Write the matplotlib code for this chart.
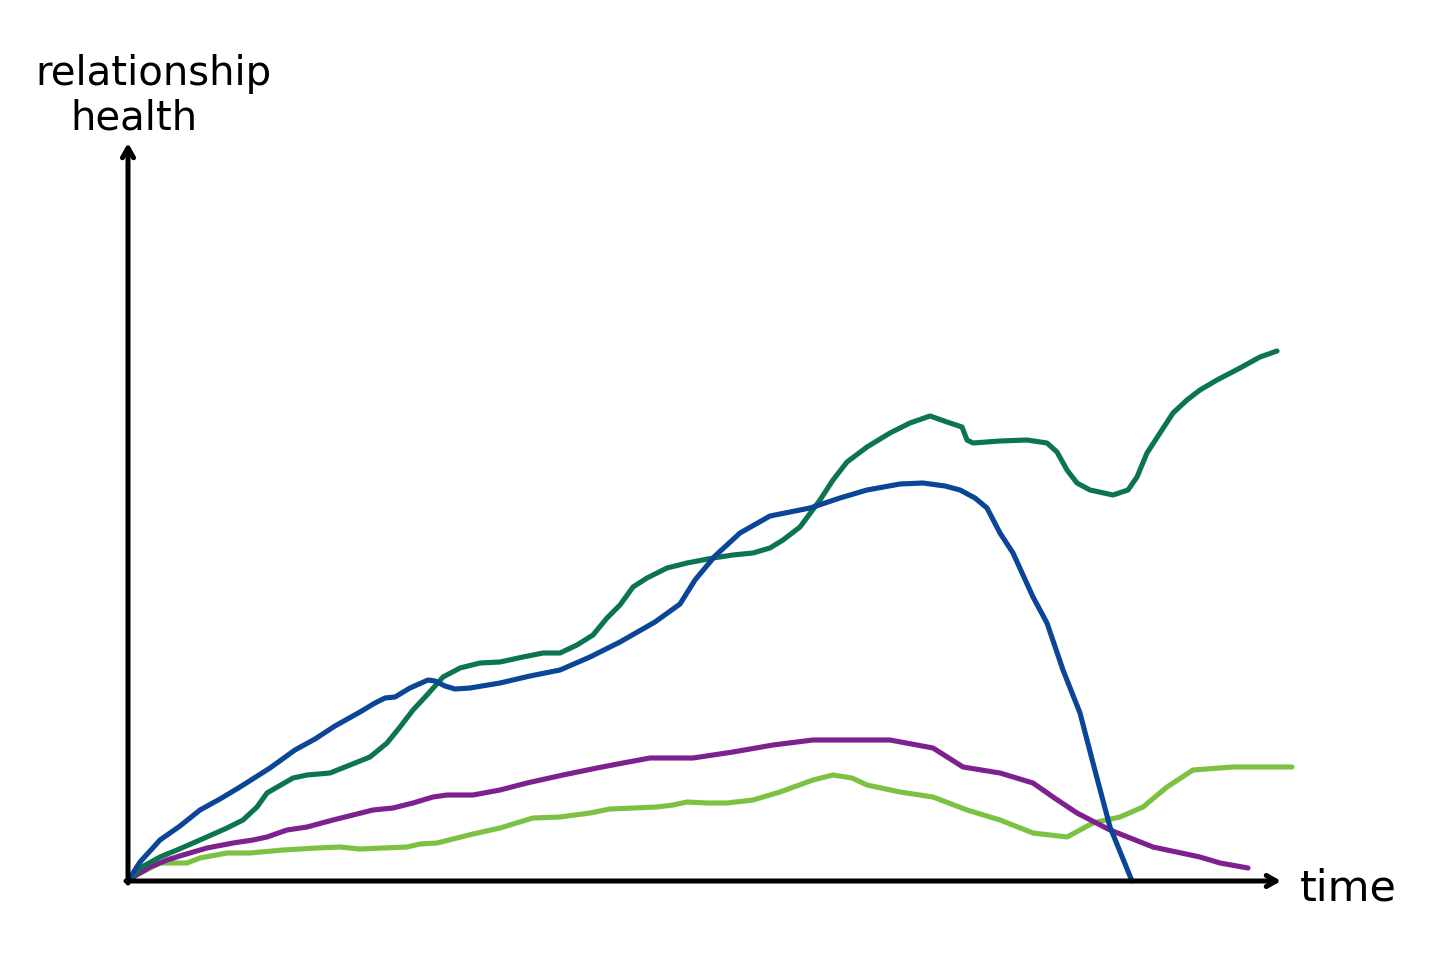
import matplotlib
matplotlib.use("Agg")
import matplotlib.pyplot as plt

# ---- data (time, relationship health) ----
blue_t = [0,12,32,52,72,92,112,142,167,187,207,232,247,257,267,282,300,307,317,327,342,372,402,432,462,492,527,552,567,587,612,642,682,712,739,772,795,817,832,847,859,872,885,905,919,935,952,965,982,1004]
blue_h = [0,19,41,55,71,82,94,113,131,142,155,169,178,183,184,193,201,200,195,192,193,198,205,211,224,239,259,277,301,325,348,365,373,383,391,397,398,395,391,383,373,348,328,284,258,211,168,118,54,0]

dgreen_t = [0,12,32,49,72,99,115,129,139,165,179,202,222,242,259,272,285,299,315,332,352,372,395,415,432,449,465,479,492,505,519,539,559,585,605,625,642,655,672,692,705,719,739,762,782,802,819,834,839,845,872,899,919,929,939,949,962,985,1000,1009,1019,1032,1045,1059,1072,1089,1112,1132,1149]
dgreen_h = [0,13,24,31,41,53,61,74,88,103,106,108,116,124,138,154,171,186,204,213,218,219,224,228,228,236,246,263,276,294,303,313,318,323,326,328,333,341,354,381,401,419,434,448,458,465,459,454,441,438,440,441,438,429,411,398,391,386,391,404,428,448,468,481,491,501,513,524,530]

purple_t = [0,5,22,39,55,79,105,125,139,159,179,205,225,245,265,285,305,319,345,372,399,435,469,495,522,565,605,645,685,722,762,805,835,872,905,925,949,982,1025,1072,1092,1120]
purple_h = [0,4,14,21,26,33,38,41,44,51,54,61,66,71,73,78,84,86,86,91,98,106,113,118,123,123,129,136,141,141,141,133,114,108,98,84,68,51,34,24,18,13]

lgreen_t = [0,5,32,59,72,99,122,155,189,212,232,255,279,292,309,325,345,372,405,432,462,482,529,545,559,579,599,625,652,685,705,724,739,772,805,839,872,905,939,965,992,1015,1039,1065,1105,1139,1164]
lgreen_h = [0,4,18,18,23,28,28,31,33,34,32,33,34,37,38,42,47,53,63,64,68,72,74,76,79,78,78,81,89,101,106,103,96,89,84,71,61,48,44,58,64,74,94,111,114,114,114]

y_label_lines = ["relationship", "health"]
x_label = "time"

# ---- figure ----
fig = plt.figure(figsize=(14.56, 9.55), dpi=100)
ax = fig.add_axes([0, 0, 1, 1])
ax.set_xlim(-128, 1328)
ax.set_ylim(-74, 881)
ax.axis("off")

lw = 3.7
style = dict(lw=lw, solid_capstyle="round", solid_joinstyle="round")
ax.plot(lgreen_t, lgreen_h, color="#7cc242", **style)
ax.plot(purple_t, purple_h, color="#7d2090", **style)
ax.plot(dgreen_t, dgreen_h, color="#0b7550", **style)
ax.plot(blue_t, blue_h, color="#0b4597", **style)

# axes with arrows
arrow = dict(arrowstyle="->,head_length=0.7,head_width=0.4", lw=3.6, color="black",
             shrinkA=0, shrinkB=0, capstyle="round", joinstyle="round")
ax.annotate("", xy=(0, 738), xytext=(0, -2), arrowprops=arrow)
ax.annotate("", xy=(1153, 0), xytext=(-2, 0), arrowprops=arrow)

ax.text(-93, 796, y_label_lines[0], fontsize=29, color="black", va="baseline", ha="left",
        family="DejaVu Sans")
ax.text(-58, 751, y_label_lines[1], fontsize=29, color="black", va="baseline", ha="left",
        family="DejaVu Sans")
ax.text(1172, -19, x_label, fontsize=31, color="black", va="baseline", ha="left",
        family="DejaVu Sans")

fig.savefig("out.png", dpi=100, facecolor="white")
